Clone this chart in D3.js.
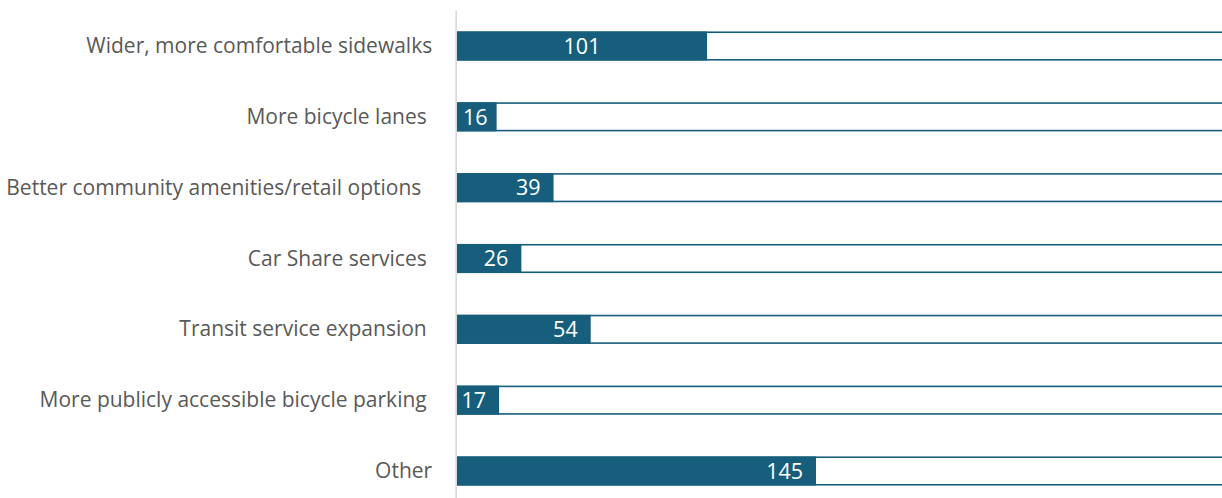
<!DOCTYPE html>
<html>
<head>
<meta charset="utf-8">
<script src="https://cdn.jsdelivr.net/npm/d3@7"></script>
<style>
  html, body { margin: 0; padding: 0; background: #fff; }
  svg { display: block; }
  text { white-space: pre; }
</style>
</head>
<body>
<svg id="chart" width="1222" height="498"></svg>
<script>
const categories = [
  "Wider, more comfortable sidewalks",
  "More bicycle lanes ",
  "Better community amenities/retail options  ",
  "Car Share services ",
  "Transit service expansion ",
  "More publicly accessible bicycle parking ",
  "Other"
];
const values = [101, 16, 39, 26, 54, 17, 145];
const totals = [398, 398, 398, 398, 398, 398, 398];
const labelModes = ["center", "end", "end", "end", "end", "end", "end"];

const W = 1222, H = 498;
const svg = d3.select("#chart");
const blue = "#175e7d";

const x0 = 457;
const pxPerUnit = 2.476;
const x = d3.scaleLinear().domain([0, 145]).range([x0, x0 + 145 * pxPerUnit]);

const y = d3.scaleBand()
  .domain(categories)
  .range([10.6, 10.6 + 7 * 70.83])
  .paddingInner(0.59)
  .paddingOuter(0.295);

// outline (total) bars
svg.append("g").selectAll("rect")
  .data(categories)
  .join("rect")
  .attr("x", x(0))
  .attr("y", d => y(d) + 0.75)
  .attr("width", (d, i) => x(totals[i]) - x(0))
  .attr("height", y.bandwidth() - 1.5)
  .attr("fill", "#fff")
  .attr("stroke", blue)
  .attr("stroke-width", 1.6);

// value bars
svg.append("g").selectAll("rect")
  .data(categories)
  .join("rect")
  .attr("x", x(0))
  .attr("y", d => y(d))
  .attr("width", (d, i) => x(values[i]) - x(0))
  .attr("height", y.bandwidth())
  .attr("fill", blue);

// axis line
const yAxis = d3.axisLeft(y).tickSize(0).tickPadding(24);
const ag = svg.append("g")
  .attr("transform", `translate(${x0 - 0.8},0)`)
  .call(yAxis);
ag.select(".domain")
  .attr("stroke", "#d9d9d9")
  .attr("stroke-width", 1.6)
  .attr("d", `M0,10.6V${H + 10}`);
ag.selectAll(".tick text")
  .attr("fill", "#595959")
  .attr("font-family", "'Open Sans', sans-serif")
  .attr("font-size", 21)
  .attr("dy", "0.34em");

// value labels
svg.append("g").selectAll("text")
  .data(categories)
  .join("text")
  .attr("x", (d, i) => labelModes[i] === "center"
      ? (x(0) + x(values[i])) / 2
      : x(values[i]) - (values[i] < 17 ? 9 : 13))
  .attr("y", d => y(d) + y.bandwidth() / 2)
  .attr("dy", "0.36em")
  .attr("text-anchor", (d, i) => labelModes[i] === "center" ? "middle" : "end")
  .attr("fill", "#fff")
  .attr("font-family", "'Open Sans', sans-serif")
  .attr("font-size", 21.5)
  .text((d, i) => values[i]);
</script>
</body>
</html>
